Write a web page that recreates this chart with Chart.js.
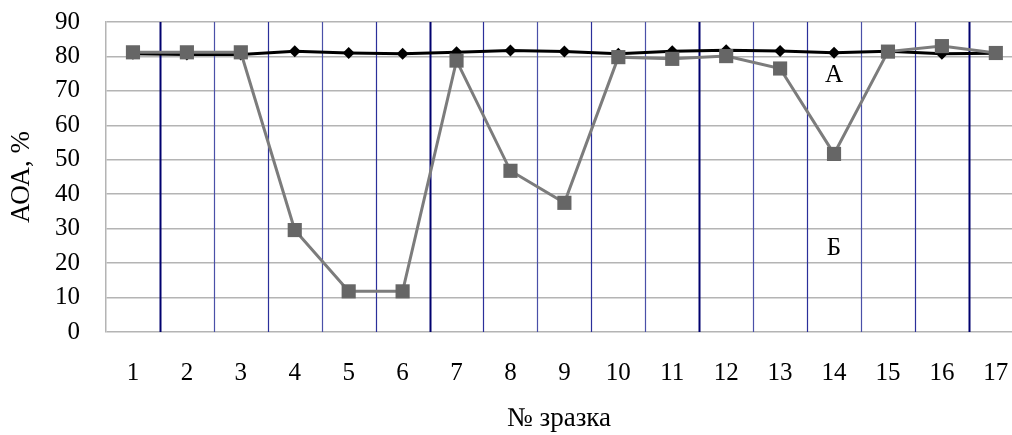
<!DOCTYPE html>
<html>
<head>
<meta charset="utf-8">
<script src="https://cdn.jsdelivr.net/npm/chart.js@4"></script>
<style>
  html, body { margin: 0; padding: 0; background: #fff; }
  #wrap { width: 1012px; height: 435px; position: relative; }
</style>
</head>
<body>
<div id="wrap"><canvas id="chart"></canvas></div>
<script>
// sample numbers
const samples = [1, 2, 3, 4, 5, 6, 7, 8, 9, 10, 11, 12, 13, 14, 15, 16, 17];
// series A (black, diamonds) and Б (grey, squares), AOA %
const seriesA = [80.8, 80.6, 80.6, 81.5, 81.0, 80.8, 81.2, 81.7, 81.4, 80.8, 81.5, 81.8, 81.6, 81.1, 81.5, 80.8, 80.9];
const seriesB = [81.2, 81.2, 81.2, 29.6, 11.8, 11.8, 78.8, 46.8, 37.5, 79.8, 79.3, 80.1, 76.5, 51.7, 81.4, 83.0, 81.0];
const yTicks = [0, 10, 20, 30, 40, 50, 60, 70, 80, 90];
// curve labels placed in data units
const curveLabels = [
  { text: 'А', x: 14, y: 74.5 },
  { text: 'Б', x: 14, y: 24.3 }
];

const serif = "'Liberation Serif', 'DejaVu Serif', serif";

// vertical separators between samples, drawn through the x scale
const separators = {
  id: 'separators',
  beforeDatasetsDraw(chart) {
    const { ctx, chartArea, scales } = chart;
    ctx.save();
    for (let i = 1; i < samples.length; i++) {
      const x = Math.round(scales.x.getPixelForValue(i + 0.5)) + 0.5;
      const strong = i % 5 === 1;
      ctx.strokeStyle = strong ? '#00006e' : (i % 2 ? '#2b2f9a' : '#4a50a8');
      ctx.lineWidth = strong ? 2 : 1.2;
      ctx.beginPath();
      ctx.moveTo(x, chartArea.top);
      ctx.lineTo(x, chartArea.bottom);
      ctx.stroke();
    }
    ctx.restore();
  },
  afterDatasetsDraw(chart) {
    const { ctx, scales } = chart;
    ctx.save();
    ctx.fillStyle = '#000';
    ctx.font = '25px ' + serif;
    ctx.textAlign = 'center';
    ctx.textBaseline = 'middle';
    curveLabels.forEach(l => {
      ctx.fillText(l.text, scales.x.getPixelForValue(l.x), scales.y.getPixelForValue(l.y));
    });
    ctx.restore();
  }
};

new Chart(document.getElementById('chart'), {
  type: 'line',
  data: {
    datasets: [
      {
        label: 'A',
        data: samples.map((s, i) => ({ x: s, y: seriesA[i] })),
        borderColor: '#000',
        backgroundColor: '#000',
        borderWidth: 3,
        pointStyle: 'rectRot',
        pointRadius: 6,
        pointBorderWidth: 0,
        order: 2
      },
      {
        label: 'Б',
        data: samples.map((s, i) => ({ x: s, y: seriesB[i] })),
        borderColor: '#7c7c7c',
        backgroundColor: '#666666',
        borderWidth: 3,
        pointStyle: 'rect',
        pointRadius: 10,
        pointBorderWidth: 0,
        order: 1
      }
    ]
  },
  options: {
    responsive: true,
    maintainAspectRatio: false,
    animation: false,
    layout: { autoPadding: false, padding: { top: 22, right: 0, left: 0, bottom: 0 } },
    plugins: {
      legend: { display: false },
      tooltip: { enabled: false }
    },
    scales: {
      x: {
        type: 'linear',
        min: 0.5,
        max: 17.3,
        afterBuildTicks: scale => { scale.ticks = samples.map(v => ({ value: v })); },
        afterFit: scale => {
          scale.height = 103;
          scale.paddingLeft = 0;
          scale.paddingRight = 0;
        },
        grid: { display: false, drawTicks: false },
        border: { display: false },
        ticks: {
          padding: 26,
          color: '#000',
          font: { family: serif, size: 25 },
          maxRotation: 0,
          autoSkip: false,
          callback: v => String(v)
        },
        title: {
          display: true,
          text: '№ зразка',
          color: '#000',
          font: { family: serif, size: 27 },
          padding: { top: 0, bottom: 0 }
        }
      },
      y: {
        min: 0,
        max: 90,
        afterBuildTicks: scale => { scale.ticks = yTicks.map(v => ({ value: v })); },
        afterFit: scale => {
          scale.width = 106;
          scale.paddingTop = 0;
          scale.paddingBottom = 0;
        },
        grid: { color: '#b4b4b4', lineWidth: 1.5, drawTicks: false },
        border: { display: true, color: '#b4b4b4', width: 1.5 },
        ticks: {
          padding: 26,
          color: '#000',
          font: { family: serif, size: 25 }
        },
        title: {
          display: true,
          text: 'АОА, %',
          color: '#000',
          font: { family: serif, size: 27 },
          padding: { top: 6, bottom: 0 }
        }
      }
    }
  },
  plugins: [separators]
});
</script>
</body>
</html>
